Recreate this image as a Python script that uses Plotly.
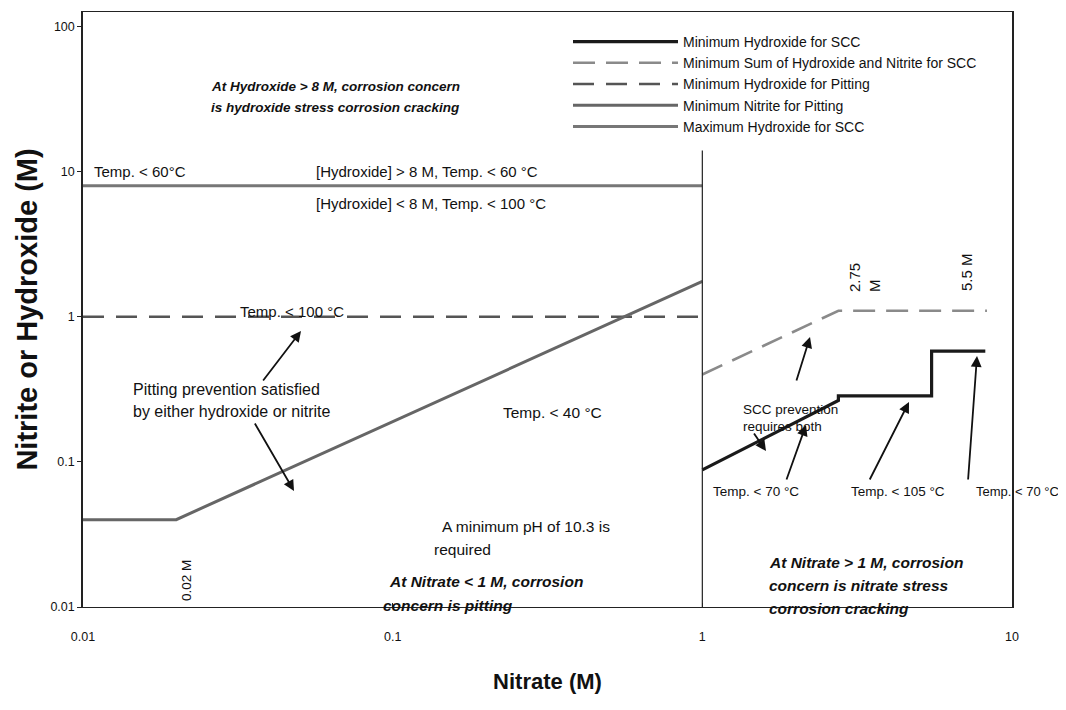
import plotly.graph_objects as go

# ---------------- data ----------------
min_oh_scc_x = [1.0, 2.75, 2.75, 5.5, 5.5, 8.2]
min_oh_scc_y = [0.088, 0.265, 0.285, 0.285, 0.58, 0.58]

min_sum_scc_x = [1.0, 2.75, 8.3]
min_sum_scc_y = [0.4, 1.1, 1.1]

min_oh_pit_x = [0.01, 1.0]
min_oh_pit_y = [1.0, 1.0]

min_no2_pit_x = [0.01, 0.02, 1.0]
min_no2_pit_y = [0.04, 0.04, 1.75]

max_oh_scc_x = [0.01, 1.0]
max_oh_scc_y = [8.0, 8.0]

divider_x = [1.0, 1.0]
divider_y = [0.01, 14.0]

x_tickvals = [0.01, 0.1, 1, 10]
x_ticktext = ["0.01", "0.1", "1", "10"]
y_tickvals = [0.01, 0.1, 1, 10, 100]
y_ticktext = ["0.01", "0.1", "1", "10", "100"]

# ---------------- helpers (positions relative to plot frame) ----------------
FX0, FX1, FY0, FY1 = 79.0, 1008.0, 8.0, 603.0
def PX(p):
    return (p - FX0) / (FX1 - FX0)
def PY(p):
    return (FY1 - p) / (FY1 - FY0)

FONT = "Liberation Sans, Arial, sans-serif"

fig = go.Figure()
fig.add_trace(go.Scatter(x=min_oh_scc_x, y=min_oh_scc_y, mode="lines",
                         name="Minimum Hydroxide for SCC",
                         line=dict(color="#1a1a1a", width=3.2)))
fig.add_trace(go.Scatter(x=min_sum_scc_x, y=min_sum_scc_y, mode="lines",
                         name="Minimum Sum of Hydroxide and Nitrite for SCC",
                         line=dict(color="#8a8a8a", width=2.6, dash="22px,11px")))
fig.add_trace(go.Scatter(x=min_oh_pit_x, y=min_oh_pit_y, mode="lines",
                         name="Minimum Hydroxide for Pitting",
                         line=dict(color="#555555", width=2.6, dash="21px,12px")))
fig.add_trace(go.Scatter(x=min_no2_pit_x, y=min_no2_pit_y, mode="lines",
                         name="Minimum Nitrite for Pitting",
                         line=dict(color="#666666", width=3)))
fig.add_trace(go.Scatter(x=max_oh_scc_x, y=max_oh_scc_y, mode="lines",
                         name="Maximum Hydroxide for SCC",
                         line=dict(color="#777777", width=3)))
fig.add_trace(go.Scatter(x=divider_x, y=divider_y, mode="lines", showlegend=False,
                         hoverinfo="skip", line=dict(color="#222222", width=1.2)))

ann = []
def text(p_x, p_y, s, size=13, bold=False, italic=False, xanchor="left", yanchor="middle",
         angle=0, align="left"):
    st = s
    if bold:
        st = "<b>" + st + "</b>"
    if italic:
        st = "<i>" + st + "</i>"
    ann.append(dict(xref="paper", yref="paper", x=PX(p_x), y=PY(p_y), text=st,
                    showarrow=False, xanchor=xanchor, yanchor=yanchor, textangle=angle,
                    align=align, font=dict(family=FONT, size=size, color="#111111")))

def lines(p_x, p_y, rows, gap, **kw):
    for i, r in enumerate(rows):
        text(p_x, p_y + i * gap, r, **kw)

def arrow(head_x, head_y, tail_x, tail_y):
    ann.append(dict(xref="paper", yref="paper", x=PX(head_x), y=PY(head_y), text="",
                    showarrow=True, ax=(tail_x - head_x), ay=(tail_y - head_y),
                    arrowhead=2, arrowsize=1.2, arrowwidth=1.8, arrowcolor="#111111"))

lines(205, 82, ["At Hydroxide > 8 M, corrosion concern",
                "is hydroxide stress corrosion cracking"], 22,
      size=13.5, bold=True, italic=True)
text(88, 167, "Temp. < 60°C", size=15)
text(310, 167, "[Hydroxide] > 8 M, Temp. < 60 °C", size=15)
text(310, 200, "[Hydroxide] < 8 M, Temp. < 100 °C", size=15)
text(234, 307, "Temp. < 100 °C", size=15)
lines(127, 385, ["Pitting prevention satisfied", "by either hydroxide or nitrite"], 22, size=16)
text(497, 408, "Temp. < 40 °C", size=15.5)
text(436, 522, "A minimum pH of 10.3 is", size=15.5)
text(428, 545, "required", size=15.5)
text(182, 577, "0.02 M", size=13.5, xanchor="center", angle=-90)
text(383, 577, "At Nitrate < 1 M, corrosion", size=15.5, bold=True, italic=True)
text(377, 601, "concern is pitting", size=15.5, bold=True, italic=True)
text(860, 274, "2.75<br>M", size=15, xanchor="center", angle=-90)
text(962, 268, "5.5 M", size=15, xanchor="center", angle=-90)
lines(737, 405, ["SCC prevention", "requires both"], 17, size=13.5)
text(707, 487, "Temp. < 70 °C", size=13.5)
text(845, 487, "Temp. < 105 °C", size=13.5)
text(970, 487, "Temp. < 70 °C", size=13)
lines(763, 558, ["At Nitrate > 1 M, corrosion", "concern is nitrate stress",
                 "corrosion cracking"], 23, size=15.5, bold=True, italic=True)

arrow(297, 327, 258, 378)
arrow(290, 487, 250, 418)
arrow(806, 333, 792, 378)
arrow(762, 447, 749, 428)
arrow(802, 421, 782, 477)
arrow(905, 398, 865, 477)
arrow(973, 352, 964, 477)

fig.update_layout(
    width=1066, height=710,
    margin=dict(l=75, r=62, t=4, b=111, autoexpand=False),
    paper_bgcolor="white", plot_bgcolor="white",
    font=dict(family=FONT, size=12, color="#111111"),
    annotations=ann,
    showlegend=True,
    legend=dict(x=PX(564), y=PY(22), xanchor="left", yanchor="top",
                bgcolor="rgba(0,0,0,0)", borderwidth=0, tracegroupgap=0,
                itemwidth=105,
                font=dict(family=FONT, size=14, color="#111111")),
)
fig.update_xaxes(type="log", range=[-2, 1], tickvals=x_tickvals, ticktext=x_ticktext,
                 showgrid=False, zeroline=False, showline=True, mirror=True,
                 linecolor="#222222", linewidth=1.3, ticks="inside", ticklen=4,
                 tickcolor="#222222", ticklabelstandoff=18, automargin=False,
                 tickfont=dict(family=FONT, size=12.5),
                 title=dict(text="<b>Nitrate (M)</b>", font=dict(family=FONT, size=22), standoff=30))
fig.update_yaxes(type="log", range=[-2, 2.1], tickvals=y_tickvals, ticktext=y_ticktext,
                 showgrid=False, zeroline=False, showline=True, mirror=True,
                 linecolor="#222222", linewidth=1.5, ticks="outside", ticklen=4,
                 tickcolor="#222222", automargin=False,
                 tickfont=dict(family=FONT, size=12.5),
                 title=dict(text="<b>Nitrite or Hydroxide (M)</b>", font=dict(family=FONT, size=29), standoff=4))

fig.write_html("out.html")
